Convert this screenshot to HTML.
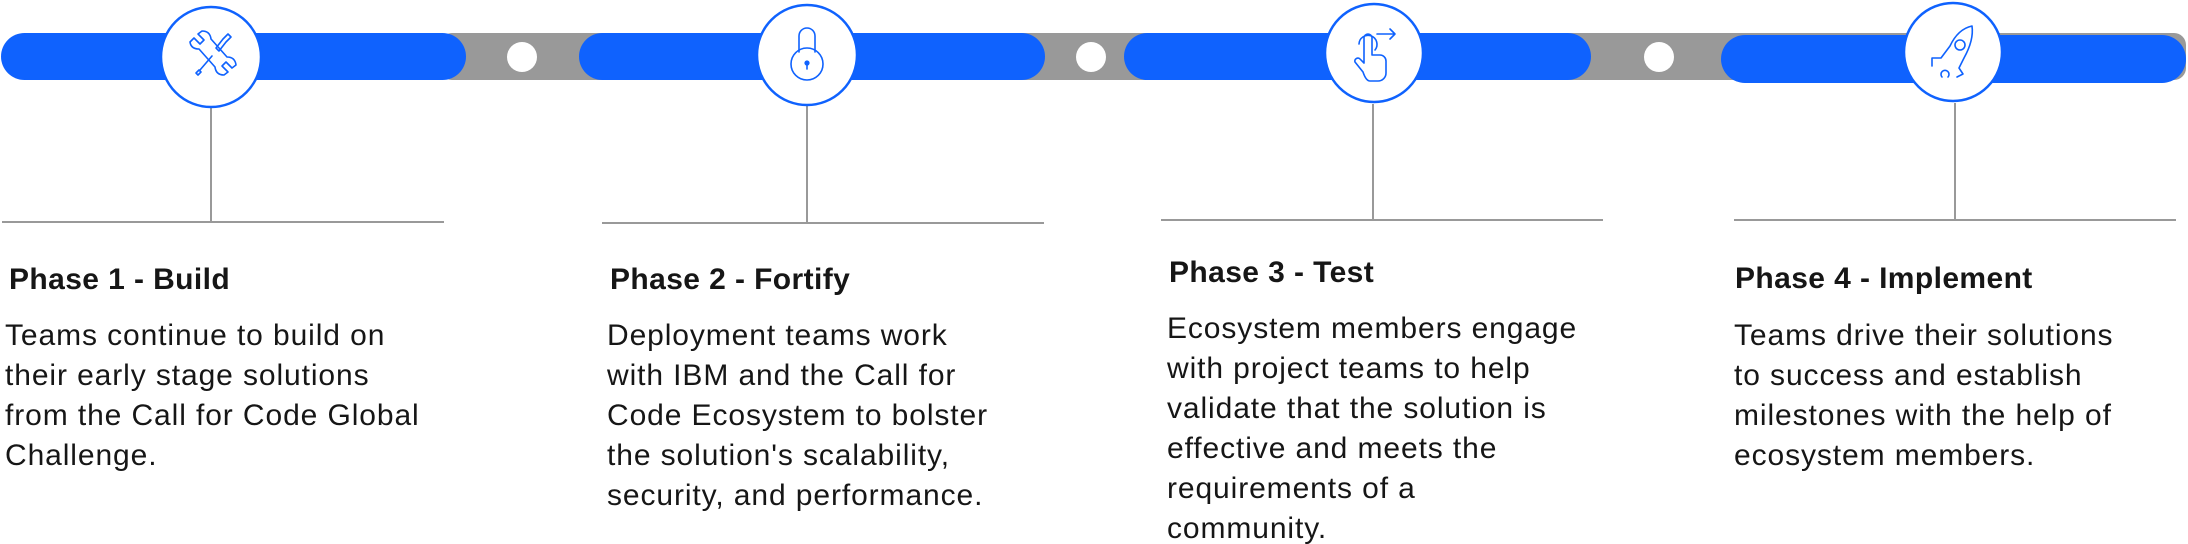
<!DOCTYPE html>
<html><head><meta charset="utf-8"><style>
html,body{margin:0;padding:0;background:#fff;width:2188px;height:544px;overflow:hidden;position:relative}
svg{position:absolute;left:0;top:0}
.t{position:absolute;font-family:"Liberation Sans",sans-serif;color:#161616;white-space:nowrap}
.h{font-weight:bold;font-size:30px;line-height:32px;letter-spacing:0.4px}
.b{font-size:30px;line-height:40px;letter-spacing:0.9px}
</style></head><body>
<svg width="2188" height="544" viewBox="0 0 2188 544">
  <rect x="440" y="33" width="1746" height="47" rx="12" fill="#999"/>
  <rect x="1" y="33" width="465" height="47" rx="23.5" fill="#0f62fe"/>
  <rect x="579" y="33" width="466" height="47" rx="23.5" fill="#0f62fe"/>
  <rect x="1124" y="33" width="467" height="47" rx="23.5" fill="#0f62fe"/>
  <rect x="1721" y="35" width="465" height="48" rx="24" fill="#0f62fe"/>
  <ellipse cx="522" cy="57" rx="15" ry="15" fill="#fff"/>
  <ellipse cx="1091" cy="57" rx="15" ry="15" fill="#fff"/>
  <ellipse cx="1659" cy="57" rx="15" ry="15" fill="#fff"/>
  <g stroke="#999" stroke-width="2" fill="none">
    <line x1="211" y1="108" x2="211" y2="222"/><line x1="2" y1="222" x2="444" y2="222"/>
    <line x1="807" y1="106" x2="807" y2="223"/><line x1="602" y1="223" x2="1044" y2="223"/>
    <line x1="1373" y1="104" x2="1373" y2="220"/><line x1="1161" y1="220" x2="1603" y2="220"/>
    <line x1="1955" y1="103" x2="1955" y2="220"/><line x1="1734" y1="220" x2="2176" y2="220"/>
  </g>
  <g fill="#fff" stroke="#0f62fe" stroke-width="2.5">
    <circle cx="211" cy="57" r="50"/>
    <circle cx="807" cy="55" r="50"/>
    <circle cx="1374" cy="53" r="49"/>
    <circle cx="1953" cy="52" r="49"/>
  </g>
  <g fill="none" stroke="#0f62fe" stroke-width="1.6" stroke-linejoin="round" stroke-linecap="round">
    <path d="M190 42 l4 -4 6 6 4 -4 -6 -6 4 -3 q8 0 9 8 l16 18 q8 0 9 8 l-4 3 -6 -6 -4 4 6 6 -4 3 q-8 0 -9 -8 l-16 -18 q-8 0 -9 -7z"/>
    <path d="M223 39 l5 -5 3 3 -5 5 -7 9 -3 -3z M212 56 l-12 14 M199 70 l-3 3 2 2 3 -3z"/>
    <path d="M799 52 v-16 a8 8 0 0 1 16 0 v16"/>
    <circle cx="807" cy="64" r="16"/>
    <circle cx="807" cy="63" r="1.8" fill="#0f62fe"/><line x1="807" y1="64" x2="807" y2="69"/>
    <path d="M1359 44 a9 9 0 1 1 16 6 M1363 72 l-8 -10 a3 3 0 0 1 5 -3 l4 4 v-25 a4 4 0 0 1 8 0 v17 h8 a6 6 0 0 1 6 6 v12 a8 8 0 0 1 -8 8 h-8 q-4 0 -7 -9z M1377 34 h18 M1390 29 l5 5 -5 5"/>
    <path d="M1972 26 q-14 3 -22 20 l-9 12 h-9 v8 M1972 26 q2 14 -8 32 l-5 10 4 6 -6 3"/>
    <circle cx="1960" cy="45" r="5"/>
    <path d="M1942 77 a4 4 0 1 1 6 0"/>
  </g>
</svg>
<div class="t h" style="left:9px;top:264px">Phase 1 - Build</div>
<div class="t b" style="left:5px;top:316px">Teams continue to build on<br>their early stage solutions<br>from the Call for Code Global<br>Challenge.</div>
<div class="t h" style="left:610px;top:264px">Phase 2 - Fortify</div>
<div class="t b" style="left:607px;top:316px">Deployment teams work<br>with IBM and the Call for<br>Code Ecosystem to bolster<br>the solution's scalability,<br>security, and performance.</div>
<div class="t h" style="left:1169px;top:257px">Phase 3 - Test</div>
<div class="t b" style="left:1167px;top:309px">Ecosystem members engage<br>with project teams to help<br>validate that the solution is<br>effective and meets the<br>requirements of a<br>community.</div>
<div class="t h" style="left:1735px;top:263px">Phase 4 - Implement</div>
<div class="t b" style="left:1734px;top:316px">Teams drive their solutions<br>to success and establish<br>milestones with the help of<br>ecosystem members.</div>
</body></html>
